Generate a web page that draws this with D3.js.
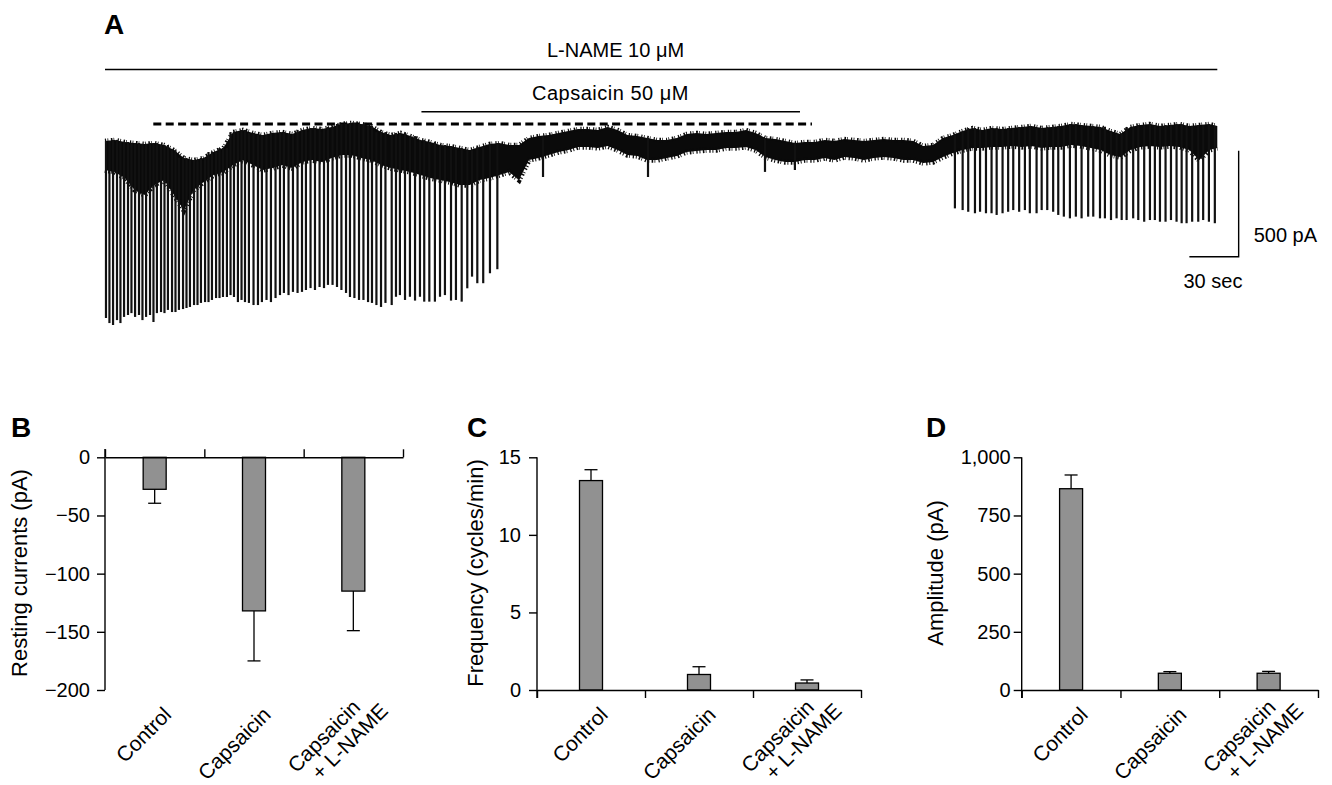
<!DOCTYPE html>
<html>
<head>
<meta charset="utf-8">
<script src="https://cdn.jsdelivr.net/npm/d3@7"></script>
<style>
  body { margin: 0; background: #fff; }
  svg text { font-family: "Liberation Sans", Arial, Helvetica, sans-serif; fill: #000; }
</style>
</head>
<body>
<svg id="fig" width="1332" height="785"></svg>
<script>
// ---------------- Panel A: whole-cell recording ----------------
// Noisy holding-current band: [time (s), upper edge (pA), lower edge (pA)]
const baseEnvelope = [
  [0,-80,-217],[6,-75,-226],[12,-85,-255],[18,-90,-311],[24,-94,-335],[30,-90,-288],
  [36,-99,-264],[42,-123,-335],[48,-160,-406],[54,-170,-311],[60,-160,-274],[66,-132,-241],
  [72,-113,-226],[78,-38,-193],[84,-28,-170],[90,-42,-193],[96,-52,-217],[102,-42,-208],
  [108,-38,-193],[114,-47,-208],[120,-28,-179],[126,-19,-170],[132,-24,-179],[138,-14,-160],
  [144,0,-146],[150,5,-146],[156,0,-160],[162,-9,-170],[168,-38,-193],[174,-52,-208],
  [180,-42,-217],[186,-57,-226],[192,-75,-241],[198,-85,-255],[204,-99,-264],[210,-104,-274],
  [216,-113,-288],[222,-123,-288],[228,-108,-264],[234,-94,-255],[240,-90,-241],[246,-99,-226],
  [252,-99,-264],[258,-66,-170],[264,-57,-160],[270,-52,-146],[276,-42,-132],[282,-33,-123],
  [288,-24,-108],[294,-24,-108],[300,-28,-113],[306,-14,-104],[312,-28,-123],[318,-52,-146],
  [324,-57,-151],[330,-66,-170],[336,-75,-170],[342,-75,-160],[348,-66,-151],[354,-47,-132],
  [360,-42,-127],[366,-47,-123],[372,-42,-123],[378,-38,-113],[384,-38,-113],[390,-28,-108],
  [396,-42,-123],[402,-66,-156],[408,-71,-170],[414,-80,-179],[420,-90,-179],[426,-85,-170],
  [432,-85,-170],[438,-75,-160],[444,-80,-170],[450,-71,-156],[456,-75,-160],[462,-80,-170],
  [468,-75,-160],[474,-71,-156],[480,-75,-160],[486,-75,-170],[492,-80,-170],[498,-104,-184],
  [504,-99,-179],[510,-66,-156],[516,-52,-137],[522,-33,-123],[528,-19,-113],[534,-28,-113],
  [540,-19,-108],[546,-24,-108],[552,-19,-104],[558,-14,-108],[564,-9,-104],[570,-19,-113],
  [576,-14,-108],[582,-9,-108],[588,0,-99],[594,-5,-104],[600,-9,-113],[606,-14,-123],
  [612,-33,-146],[618,-47,-156],[624,-14,-123],[630,-5,-108],[636,0,-104],[642,-9,-108],
  [648,-5,-104],[654,0,-108],[660,-9,-123],[666,-5,-170],[672,0,-123],[677,-9,-113]
];

// Spontaneous inward currents: [time (s), peak current (pA)]
const inwardCurrents = [
  [0.6,-915],[2.7,-939],[4.9,-948],[7.3,-925],[9.4,-939],[11.6,-910],[14.0,-901],[16.1,-892],
  [18.3,-910],[20.7,-901],[22.8,-925],[25.0,-910],[27.4,-901],[29.5,-934],[31.6,-892],[34.1,-887],
  [36.2,-892],[38.3,-877],[40.8,-887],[42.9,-887],[45.0,-877],[47.5,-873],[49.6,-868],[51.7,-863],
  [54.2,-854],[56.3,-854],[58.4,-844],[60.9,-840],[63.0,-840],[65.1,-830],[67.6,-821],[69.7,-821],
  [71.8,-816],[74.2,-816],[76.4,-807],[78.5,-816],[80.9,-840],[83.1,-830],[85.2,-840],
  [87.6,-844],[90.4,-854],[93.1,-854],[95.5,-840],[98.3,-830],[101.0,-840],[103.8,-821],[106.5,-807],
  [108.9,-797],[111.7,-807],[114.4,-792],[117.2,-797],[119.9,-792],[122.3,-783],[125.1,-774],[127.8,-783],
  [130.6,-769],[133.3,-774],[135.7,-759],[138.5,-759],[141.2,-769],[143.9,-783],[146.7,-797],[149.1,-816],
  [151.8,-821],[154.6,-830],[157.3,-830],[160.1,-840],[162.5,-844],[165.2,-854],[168.0,-863],[170.7,-844],
  [174.5,-854],[177.1,-815],[179.5,-807],[182.6,-830],[185.6,-815],[188.7,-833],[191.7,-815],[194.3,-838],
  [197.4,-838],[200.8,-838],[203.9,-815],[206.9,-807],[210.6,-833],[213.6,-830],[217.1,-838],[220.5,-775],
  [223.4,-720],[226.6,-751],[230.2,-751],[234.3,-704],[238.8,-685],
  [517.3,-398],[522.0,-406],[525.4,-414],[529.5,-421],[532.6,-414],[536.2,-421],[539.6,-421],[542.7,-429],
  [546.3,-421],[549.7,-414],[552.8,-406],[556.4,-414],[559.9,-406],[562.9,-421],[567.0,-421],[570.1,-406],
  [573.5,-406],[577.1,-414],[580.2,-429],[583.6,-437],[587.3,-445],[590.9,-437],[594.4,-445],
  [598.4,-437],[601.5,-437],[605.6,-445],[608.6,-445],[612.3,-453],[615.7,-445],[618.8,-453],[621.8,-453],
  [625.8,-445],[628.9,-453],[632.5,-461],[636.0,-453],[639.0,-453],[642.1,-461],[645.5,-461],[648.8,-453],
  [652.2,-461],[655.3,-468],[658.3,-468],[661.7,-461],[665.4,-461],[668.4,-453],[671.9,-461],[675.5,-468]
];

// Small transients riding on the holding current: [time (s), peak (pA)]
const smallTransients = [[266.6,-250],[330.5,-250],[401.7,-226],[419.9,-217]];

// Drug application periods (s) and the dashed resting-level marker
const lnameSpan = [0, 677];
const capsaicinSpan = [192.6, 423];
const restingMarkSpan = [29.4, 430.3];
const restingMarkLevel = 0;          // pA
const scaleBarTime = 30;             // s
const scaleBarCurrent = 500;         // pA
const scaleBarCorner = [690, -626];  // [s, pA]

// ---------------- Panels B–D: summary bars ----------------
const groups = ["Control", "Capsaicin", "Capsaicin\n+ L-NAME"];
const restingMean = [-27.5, -132, -115];
const restingSE   = [12, 43, 34];
const freqMean    = [13.5, 1.0, 0.45];
const freqSE      = [0.7, 0.5, 0.2];
const ampMean     = [865, 72, 72];
const ampSE       = [59, 7, 8];
const restingTicks = [0, -50, -100, -150, -200];
const freqTicks    = [0, 5, 10, 15];
const ampTicks     = [0, 250, 500, 750, 1000];

const svg = d3.select("#fig");
svg.append("rect").attr("width", 1332).attr("height", 785).attr("fill", "#fff");

// ---------- Panel A ----------
const tx = d3.scaleLinear().domain([0, 677]).range([105, 1217.3]);
const iy = d3.scaleLinear().domain([0, -1000]).range([124, 336]);

const A = svg.append("g");
A.append("text").attr("x", 104).attr("y", 34).attr("font-size", 28).attr("font-weight", "bold").text("A");

// L-NAME bar
A.append("line").attr("x1", tx(lnameSpan[0])).attr("x2", tx(lnameSpan[1]))
  .attr("y1", 69.5).attr("y2", 69.5).attr("stroke", "#000").attr("stroke-width", 1.4);
A.append("text").attr("x", 547).attr("y", 56.5).attr("font-size", 20).text("L-NAME 10 μM");

// Capsaicin bar
A.append("line").attr("x1", tx(capsaicinSpan[0])).attr("x2", tx(capsaicinSpan[1]))
  .attr("y1", 111.7).attr("y2", 111.7).attr("stroke", "#000").attr("stroke-width", 1.4);
A.append("text").attr("x", 532).attr("y", 100).attr("font-size", 20).attr("letter-spacing", 0.5).text("Capsaicin 50 μM");

// resting level marker
A.append("line").attr("x1", tx(restingMarkSpan[0])).attr("x2", tx(restingMarkSpan[1]))
  .attr("y1", iy(restingMarkLevel)).attr("y2", iy(restingMarkLevel))
  .attr("stroke", "#000").attr("stroke-width", 2.8).attr("stroke-dasharray", "8,4.4");

// holding-current band
const band = d3.area()
  .x(d => tx(d[0]))
  .y0(d => iy(d[2]))
  .y1(d => iy(d[1]));
A.append("path").datum(baseEnvelope).attr("d", band)
  .attr("fill", "#0a0a0a").attr("stroke", "none");

// ragged fringe along both edges of the band (recording noise)
const edgeTop = d3.line().x(d => tx(d[0])).y(d => iy(d[1]));
const edgeBot = d3.line().x(d => tx(d[0])).y(d => iy(d[2]));
[edgeTop, edgeBot].forEach((ln, i) => {
  A.append("path").datum(baseEnvelope).attr("d", ln)
    .attr("fill", "none").attr("stroke", "#0a0a0a")
    .attr("stroke-width", i === 0 ? 4.5 : 5.5)
    .attr("stroke-dasharray", i === 0 ? "1.2,1.4,0.8,2.6,1.6,1.1,0.7,3.2" : "1,2.4,1.6,1.3,0.8,2.9,1.3,1.8");
});

// inward current events drawn from the band's upper edge to their peak
const bis = d3.bisector(d => d[0]).center;
function bandTop(t) { return baseEnvelope[bis(baseEnvelope, t)][1]; }
A.append("g").selectAll("line").data(inwardCurrents.concat(smallTransients)).join("line")
  .attr("x1", d => tx(d[0])).attr("x2", d => tx(d[0]))
  .attr("y1", d => iy(bandTop(d[0]))).attr("y2", d => iy(d[1]))
  .attr("stroke", "#111").attr("stroke-width", 2.2);

// scale bar
const sbx = tx(scaleBarCorner[0]), sby = iy(scaleBarCorner[1]);
A.append("path")
  .attr("d", `M${tx(scaleBarCorner[0] - scaleBarTime)},${sby}H${sbx}V${iy(scaleBarCorner[1] + scaleBarCurrent)}`)
  .attr("fill", "none").attr("stroke", "#000").attr("stroke-width", 1.4);
A.append("text").attr("x", sbx + 15).attr("y", 241.5).attr("font-size", 20).text(scaleBarCurrent + " pA");
A.append("text").attr("x", 1183.5).attr("y", 288).attr("font-size", 20).text(scaleBarTime + " sec");

// ---------- bar panels ----------
function barPanel(o) {
  const g = svg.append("g");
  const xb = d3.scaleBand().domain(groups).range([o.x0, o.x1]);
  const xl = d3.scaleLinear().domain([0, 3]).range([o.x0, o.x1]);
  const y = d3.scaleLinear().domain(o.domain).range(o.range);
  const bw = 23;

  g.append("text").attr("x", o.letterX).attr("y", 437).attr("font-size", 28).attr("font-weight", "bold").text(o.letter);

  // bars
  g.selectAll("rect.bar").data(o.means).join("rect").attr("class", "bar")
    .attr("x", (d, i) => xb(groups[i]) + xb.bandwidth() / 2 - bw / 2)
    .attr("width", bw)
    .attr("y", d => Math.min(y(0), y(d)))
    .attr("height", d => Math.abs(y(d) - y(0)))
    .attr("fill", "#919191").attr("stroke", "#000").attr("stroke-width", 1.3);

  // error bars (away from zero)
  o.means.forEach((m, i) => {
    const cx = xb(groups[i]) + xb.bandwidth() / 2;
    const e = m + Math.sign(m) * o.se[i];
    g.append("line").attr("x1", cx).attr("x2", cx).attr("y1", y(m)).attr("y2", y(e))
      .attr("stroke", "#000").attr("stroke-width", 1.3);
    g.append("line").attr("x1", cx - 6.5).attr("x2", cx + 6.5).attr("y1", y(e)).attr("y2", y(e))
      .attr("stroke", "#000").attr("stroke-width", 1.3);
  });

  // y axis
  const ya = d3.axisLeft(y).tickValues(o.ticks).tickSize(8).tickSizeOuter(0).tickPadding(o.pad)
    .tickFormat(o.fmt);
  const yg = g.append("g").attr("transform", `translate(${o.x0},0)`).call(ya);
  yg.select(".domain").remove();
  yg.selectAll("line").attr("stroke-width", 1.4);
  yg.selectAll("text").attr("font-size", 20).attr("font-family", null);
  g.append("line").attr("x1", o.x0).attr("x2", o.x0).attr("y1", o.axisTop).attr("y2", o.axisBot)
    .attr("stroke", "#000").attr("stroke-width", 1.4);

  // category axis at zero
  const xa = (o.up ? d3.axisTop(xl) : d3.axisBottom(xl)).tickValues([0, 1, 2, 3])
    .tickSize(8).tickSizeOuter(0).tickFormat("");
  const xg = g.append("g").attr("transform", `translate(0,${y(0)})`).call(xa);
  xg.select(".domain").attr("stroke-width", 1.4);
  xg.selectAll("line").attr("stroke-width", 1.4);

  // category labels
  groups.forEach(name => {
    const cx = xb(name) + xb.bandwidth() / 2;
    const lines = name.split("\n");
    const lg = g.append("g").attr("font-size", 21);
    if (lines.length === 1) {
      lg.attr("transform", `translate(${cx + 18},716) rotate(-45)`);
      lg.append("text").attr("text-anchor", "end").text(lines[0]);
    } else {
      lg.attr("transform", `translate(${cx + 21},710) rotate(-45)`);
      lg.append("text").attr("text-anchor", "end").attr("x", -8).attr("y", -10).text(lines[0]);
      lg.append("text").attr("text-anchor", "end").attr("x", 9).attr("y", 12).text(lines[1]);
    }
  });

  // axis title
  g.append("text").attr("transform", `translate(${o.titleX},573) rotate(-90)`)
    .attr("text-anchor", "middle").attr("font-size", 22).text(o.title);
}

barPanel({
  letter: "B", letterX: 11, x0: 105, x1: 403, domain: [0, -200], range: [457.3, 690],
  ticks: restingTicks, fmt: d3.format(""), means: restingMean, se: restingSE, pad: 7,
  axisTop: 449, axisBot: 690, up: true, title: "Resting currents (pA)", titleX: 27
});
barPanel({
  letter: "C", letterX: 467, x0: 537, x1: 861, domain: [0, 15], range: [690, 457.3],
  ticks: freqTicks, fmt: d3.format(""), means: freqMean, se: freqSE, pad: 8,
  axisTop: 457.3, axisBot: 698, up: false, title: "Frequency (cycles/min)", titleX: 483
});
barPanel({
  letter: "D", letterX: 926, x0: 1021.7, x1: 1318, domain: [0, 1000], range: [690, 457.3],
  ticks: ampTicks, fmt: d3.format(","), means: ampMean, se: ampSE, pad: 3,
  axisTop: 457.3, axisBot: 698, up: false, title: "Amplitude (pA)", titleX: 943
});
</script>
</body>
</html>
